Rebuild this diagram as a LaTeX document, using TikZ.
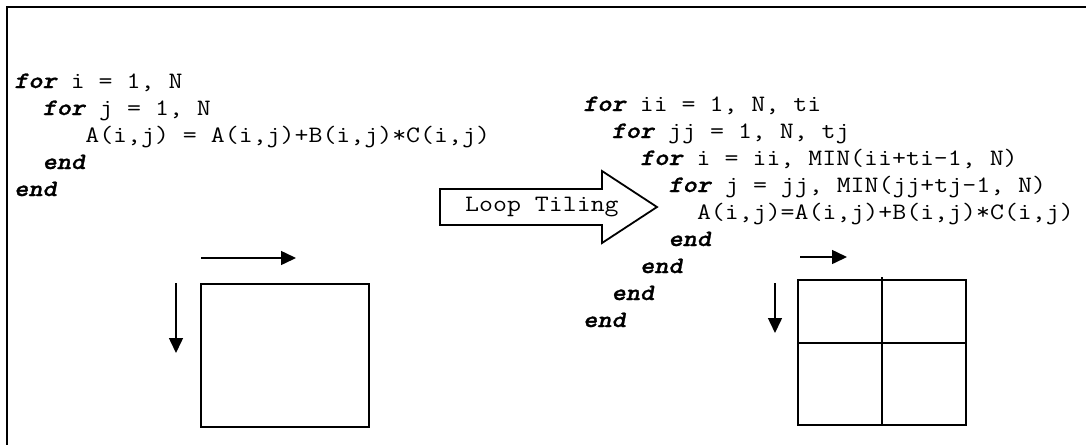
\documentclass[tikz,border=0pt]{standalone}
\usepackage{fontspec}
% typewriter face widened to a 0.6em advance, like Courier
\setmonofont{lmmono12-regular.otf}[FakeStretch=1.153]
\newfontfamily\kwfont{lmmonolt10-boldoblique.otf}[FakeStretch=1.153,FakeBold=1.2]
\usetikzlibrary{arrows.meta}
\newcommand\kw[1]{{\kwfont #1}}
\begin{document}
\begin{tikzpicture}[x=1pt,y=-1pt,
  code/.style={anchor=base west, inner sep=0pt,
    font=\ttfamily\fontsize{23.5}{26.9}\selectfont},
  frameline/.style={line width=2pt},
  dirarrow/.style={line width=1.5pt, -{Triangle[length=15pt,width=14pt]}},
  cell/.style={line width=1.6pt},
  bigarrow/.style={line width=1.8pt}]
\useasboundingbox (0,0) rectangle (1086,445);

% open frame: top and left edges only
\draw[frameline] (1086,7) -- (7,7) -- (7,445);

% original loop nest
\node[code] (l1) at (14,88)     {\kw{for} i = 1, N};
\node[code] (l2) at (42.4,115)  {\kw{for} j = 1, N};
\node[code] (l3) at (85.1,142)  {A(i,j) = A(i,j)+B(i,j)*C(i,j)};
\node[code] (l4) at (42.4,169)  {\kw{end}};
\node[code] (l5) at (14,196)    {\kw{end}};

% tiled loop nest
\node[code] (r1) at (583,111)   {\kw{for} ii = 1, N, ti};
\node[code] (r2) at (611.4,138) {\kw{for} jj = 1, N, tj};
\node[code] (r3) at (639.9,165) {\kw{for} i = ii, MIN(ii+ti-1, N)};
\node[code] (r4) at (668.3,192) {\kw{for} j = jj, MIN(jj+tj-1, N)};
\node[code] (r5) at (696.8,219) {A(i,j)=A(i,j)+B(i,j)*C(i,j)};
\node[code] (r6) at (668.3,246) {\kw{end}};
\node[code] (r7) at (639.9,273) {\kw{end}};
\node[code] (r8) at (611.4,300) {\kw{end}};
\node[code] (r9) at (583,327)   {\kw{end}};

% block arrow with its label
\draw[bigarrow] (440,189) -- (602,189) -- (602,171) -- (657,207)
  -- (602,243) -- (602,225) -- (440,225) -- cycle;
\node[code] (tiling) at (465,211) {Loop Tiling};

% untiled iteration space
\draw[cell] (201,284) rectangle (369,427);
\coordinate (ha) at (201,258);
\coordinate (hb) at (296,258);
\coordinate (va) at (176,283);
\coordinate (vb) at (176,353);
\draw[dirarrow] (ha) -- (hb);
\draw[dirarrow] (va) -- (vb);

% tiled iteration space
\draw[cell] (798,280) rectangle (966,425);
\draw[cell] (798,343) -- (966,343);
\draw[cell] (882,277) -- (882,425);
\coordinate (ta) at (800,257);
\coordinate (tb) at (847,257);
\coordinate (tc) at (775,283);
\coordinate (td) at (775,333);
\draw[dirarrow] (ta) -- (tb);
\draw[dirarrow] (tc) -- (td);
\end{tikzpicture}
\end{document}
